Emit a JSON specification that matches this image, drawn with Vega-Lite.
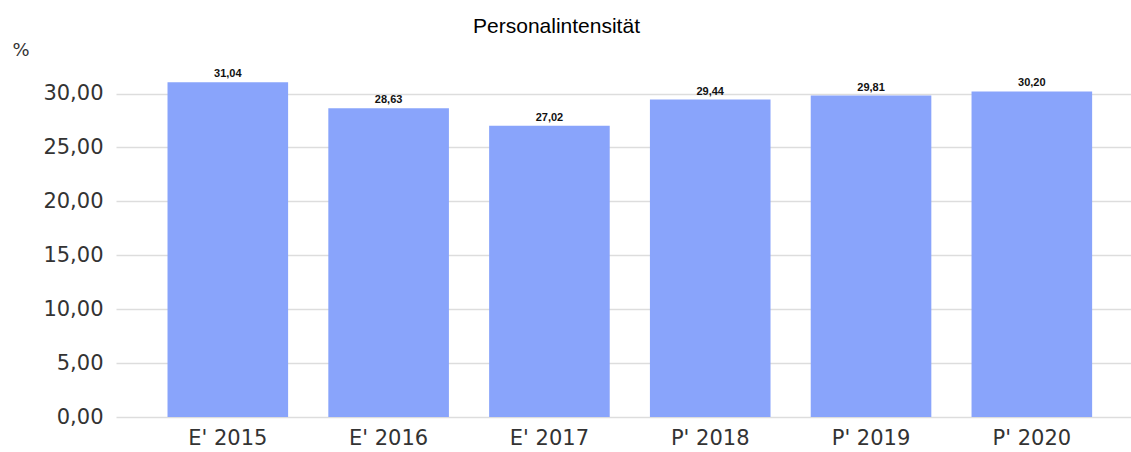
{
  "$schema": "https://vega.github.io/schema/vega-lite/v6.json",
  "autosize": "none",
  "width": 1015,
  "height": 345,
  "padding": {"left": 116, "top": 72, "right": 0, "bottom": 35},
  "config": {
    "view": {"stroke": null},
    "locale": {"number": {"decimal": ",", "thousands": ".", "grouping": [3], "currency": ["", " €"]}}
  },
  "title": {
    "text": "Personalintensität",
    "font": "Liberation Sans",
    "fontSize": 21,
    "fontWeight": "normal",
    "color": "#000000",
    "anchor": "middle",
    "dx": -67,
    "offset": 4
  },
  "data": {
    "values": [
      {"jahr": "E' 2015", "wert": 31.04},
      {"jahr": "E' 2016", "wert": 28.63},
      {"jahr": "E' 2017", "wert": 27.02},
      {"jahr": "P' 2018", "wert": 29.44},
      {"jahr": "P' 2019", "wert": 29.81},
      {"jahr": "P' 2020", "wert": 30.20}
    ]
  },
  "encoding": {
    "x": {
      "field": "jahr",
      "type": "nominal",
      "sort": null,
      "scale": {"paddingInner": 0.25, "paddingOuter": 0.281, "align": 0.57},
      "axis": {
        "title": null,
        "labelAngle": 0,
        "labelFont": "DejaVu Sans",
        "labelFontSize": 21,
        "labelColor": "#333333",
        "labelPadding": 10,
        "ticks": false,
        "domain": false
      }
    },
    "y": {
      "field": "wert",
      "type": "quantitative",
      "scale": {"domain": [0, 32], "nice": false},
      "axis": {
        "values": [0, 5, 10, 15, 20, 25, 30],
        "format": ".2f",
        "title": "%",
        "titleAngle": 0,
        "titleX": -104,
        "titleY": -17,
        "titleAlign": "left",
        "titleBaseline": "alphabetic",
        "titleFont": "DejaVu Sans",
        "titleFontSize": 18,
        "titleFontWeight": "normal",
        "titleColor": "#333333",
        "labelFont": "DejaVu Sans",
        "labelFontSize": 21,
        "labelColor": "#333333",
        "labelPadding": 13,
        "ticks": false,
        "domain": false,
        "gridColor": "#dddddd",
        "gridWidth": 1.5
      }
    }
  },
  "layer": [
    {"mark": {"type": "bar", "color": "#89a4fb"}},
    {
      "mark": {"type": "text", "dy": -8, "font": "Liberation Sans", "fontSize": 11, "fontWeight": "bold", "color": "#111111"},
      "encoding": {"text": {"field": "wert", "type": "quantitative", "format": ".2f"}}
    }
  ]
}
